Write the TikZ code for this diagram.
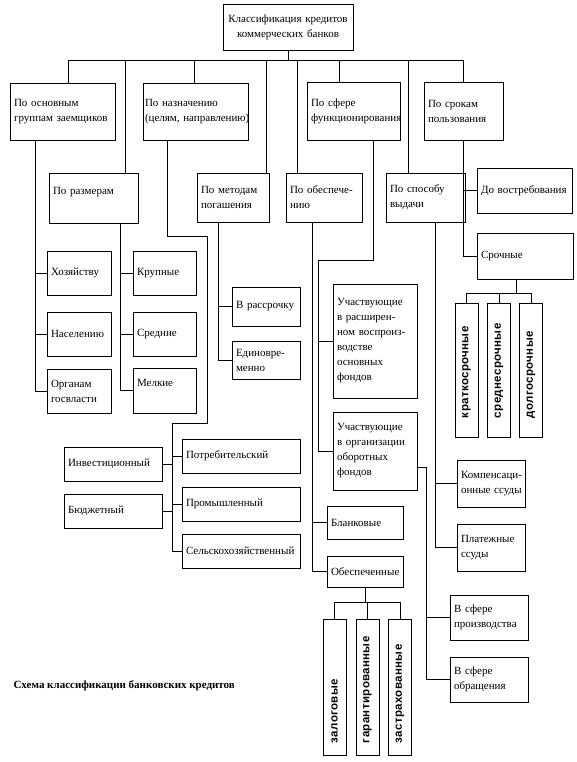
\documentclass[tikz,border=0pt]{standalone}
\usepackage{fontspec}
\setmainfont{Liberation Serif}
\newfontfamily\vertfont[LetterSpace=3]{Liberation Sans}
\begin{document}
\begin{tikzpicture}[x=1pt, y=-1pt,
  box/.style={draw, line width=0.9pt, align=left, inner xsep=4pt, inner ysep=2pt, font=\fontsize{11}{15}\selectfont},
  vbox/.style={draw, line width=0.9pt, rotate=90, align=left, minimum height=23pt, font=\vertfont\bfseries\fontsize{11.5}{14}\selectfont},
  link/.style={line width=0.6pt}]
\useasboundingbox (0,0) rectangle (576,762);
\node[box, align=center, text width=122pt, minimum height=46pt] (kid0) at (288,27){Классификация кредитов\\коммерческих банков};
\node[box, text width=97pt, minimum height=57pt] (kid1) at (62.5,111.5){По основным\\группам заемщиков};
\node[box, inner xsep=2pt, text width=101pt, minimum height=57pt] (kid2) at (195.5,111.5){По назначению\\\mbox{(целям, направлению)}};
\node[box, text width=85pt, minimum height=58pt] (kid3) at (353.5,111){По сфере\\функционирования};
\node[box, text width=71pt, minimum height=58pt] (kid4) at (463.5,111){По срокам\\пользования};
\node[box, text width=81pt, minimum height=50pt] (kid5) at (93.5,198){По размерам\\\mbox{}};
\node[box, text width=64pt, minimum height=49pt] (kid6) at (233,197.5){По методам\\погашения};
\node[box, text width=68pt, minimum height=49pt] (kid7) at (324,197.5){По обеспече-\\нию};
\node[box, text width=71pt, minimum height=49pt] (kid8) at (425.5,197.5){По способу\\выдачи};
\node[box, text width=87pt, minimum height=45pt] (kid9) at (524.5,190.5){До востребования};
\node[box, text width=88pt, minimum height=46pt] (kid10) at (525,256){Срочные};
\node[box, text width=56pt, minimum height=44pt] (kid11) at (79,273){Хозяйству};
\node[box, text width=56pt, minimum height=44pt] (kid12) at (79,334){Населению};
\node[box, text width=56pt, minimum height=44pt] (kid13) at (79,391){Органам\\госвласти};
\node[box, text width=55pt, minimum height=44pt] (kid14) at (164.5,273){Крупные};
\node[box, text width=55pt, minimum height=44pt] (kid15) at (164.5,334){Средние};
\node[box, text width=55pt, minimum height=45pt] (kid16) at (164.5,390.5){Мелкие\\\mbox{}};
\node[box, text width=60pt, minimum height=39pt] (kid17) at (266,306.5){В рассрочку};
\node[box, text width=60pt, minimum height=38pt] (kid18) at (266,360){Единовре-\\менно};
\node[box, text width=90pt, minimum height=34pt] (kid19) at (113,464){Инвестиционный};
\node[box, text width=90pt, minimum height=34pt] (kid20) at (113,511){Бюджетный};
\node[box, text width=110pt, minimum height=34pt] (kid21) at (241,456){Потребительский};
\node[box, text width=110pt, minimum height=34pt] (kid22) at (241,504){Промышленный};
\node[box, text width=110pt, minimum height=34pt] (kid23) at (241,551){Сельскохозяйственный};
\node[box, text width=76pt, minimum height=114pt] (kid24) at (375,341){Участвующие\\в расширен-\\ном воспроиз-\\водстве\\основных\\фондов};
\node[box, text width=76pt, minimum height=78pt] (kid25) at (375,451){Участвующие\\в организации\\оборотных\\фондов};
\node[box, text width=68pt, minimum height=33pt] (kid26) at (365,522.5){Бланковые};
\node[box, text width=68pt, minimum height=31pt] (kid27) at (365,571.5){Обеспеченные};
\node[vbox, inner xsep=12pt, text width=112pt] (kid28) at (334.5,687){залоговые};
\node[vbox, inner xsep=12pt, text width=112pt] (kid29) at (367.5,687){гарантированные};
\node[vbox, inner xsep=12pt, text width=112pt] (kid30) at (400,687){застрахованные};
\node[box, text width=70pt, minimum height=45pt] (kid31) at (489,617.5){В сфере\\производства};
\node[box, text width=70pt, minimum height=45pt] (kid32) at (489,679.5){В сфере\\обращения};
\node[box, text width=60pt, minimum height=47pt] (kid33) at (491,483.5){\mbox{Компенсаци-}\\\mbox{онные ссуды}};
\node[box, text width=60pt, minimum height=47pt] (kid34) at (491,547.5){Платежные\\ссуды};
\node[vbox, inner xsep=19pt, text width=96pt] (kid35) at (466.5,370){краткосрочные};
\node[vbox, inner xsep=19pt, text width=96pt] (kid36) at (499,370){среднесрочные};
\node[vbox, inner xsep=19pt, text width=96pt] (kid37) at (531,370){долгосрочные};
\node[anchor=west, font=\bfseries\fontsize{11}{13}\selectfont] (kid38) at (10,686){Схема классификации банковских кредитов};
\coordinate (jid0) at (288,60);
\coordinate (jid1) at (68,60);
\coordinate (jid2) at (125,60);
\coordinate (jid3) at (194,60);
\coordinate (jid4) at (266,60);
\coordinate (jid5) at (297,60);
\coordinate (jid6) at (339,60);
\coordinate (jid7) at (408,60);
\coordinate (jid8) at (463,60);
\draw[link](kid0) -- (jid0);
\draw[link](jid1) -- (jid8);
\draw[link](jid1) -- (jid1 |- kid1.north);
\draw[link](jid2) -- (jid2 |- kid5.north);
\draw[link](jid3) -- (jid3 |- kid2.north);
\draw[link](jid4) -- (jid4 |- kid6.north);
\draw[link](jid5) -- (jid5 |- kid7.north);
\draw[link](jid6) -- (jid6 |- kid3.north);
\draw[link](jid7) -- (jid7 |- kid8.north);
\draw[link](jid8) -- (jid8 |- kid4.north);
\coordinate (jid9) at (35,140);
\draw[link](jid9) |- (kid11.west);
\draw[link](jid9) |- (kid12.west);
\draw[link](jid9) |- (kid13.west);
\coordinate (jid10) at (120,223);
\draw[link](jid10) |- (kid14.west);
\draw[link](jid10) |- (kid15.west);
\draw[link](jid10) |- (kid16.west);
\coordinate (jid11) at (218,222);
\draw[link](jid11) |- (kid17.west);
\draw[link](jid11) |- (kid18.west);
\coordinate (jid12) at (167,140);
\coordinate (jid13) at (207,236);
\coordinate (jid14) at (172,423);
\draw[link](jid12) |- (jid13) |- (jid14) |- (kid23.west);
\draw[link](jid14) |- (kid21.west);
\draw[link](jid14) |- (kid22.west);
\draw[link](kid19.east) -- (kid19.east -| jid14);
\draw[link](kid20.east) -- (kid20.east -| jid14);
\coordinate (jid15) at (312,222);
\draw[link](jid15) |- (kid26.west);
\draw[link](jid15) |- (kid27.west);
\coordinate (jid16) at (373,140);
\coordinate (jid17) at (318,260);
\draw[link](jid16) |- (jid17) |- (kid25.west);
\draw[link](jid17) |- (kid24.west);
\coordinate (jid18) at (426,467);
\draw[link](kid25.east |- jid18) -- (jid18) |- (kid32.west);
\draw[link](jid18) |- (kid31.west);
\coordinate (jid19) at (435,222);
\draw[link](jid19) |- (kid33.west);
\draw[link](jid19) |- (kid34.west);
\coordinate (jid20) at (463,140);
\draw[link](jid20) |- (kid9.west);
\draw[link](jid20) |- (kid10.west);
\coordinate (jid21) at (516,293);
\draw[link](jid21 |- kid10.south) -- (jid21);
\draw[link](kid35.east |- jid21) -- (kid37.east |- jid21);
\draw[link](kid35.east |- jid21) -- (kid35.east);
\draw[link](kid36.east |- jid21) -- (kid36.east);
\draw[link](kid37.east |- jid21) -- (kid37.east);
\coordinate (jid22) at (365,602);
\draw[link](kid27.south) -- (jid22);
\draw[link](kid28.east |- jid22) -- (kid30.east |- jid22);
\draw[link](kid28.east |- jid22) -- (kid28.east);
\draw[link](kid29.east |- jid22) -- (kid29.east);
\draw[link](kid30.east |- jid22) -- (kid30.east);
\end{tikzpicture}
\end{document}
